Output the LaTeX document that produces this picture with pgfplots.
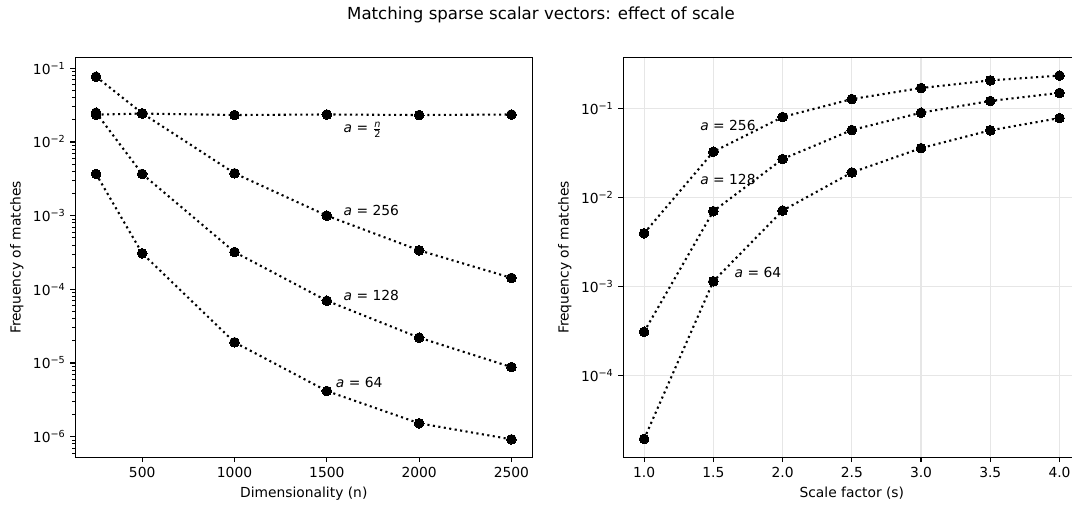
\documentclass[border=0pt]{standalone}
\usepackage{fontspec}
\setmainfont{DejaVu Sans}
\usepackage{amsmath}
\usepackage{pgfplots}
\pgfplotsset{compat=1.18}
\definecolor{gridgray}{HTML}{E6E6E6}

\pgfplotstableread{
x nhalf a256 a128 a64
250 0.0235 0.077 0.0250 0.00368
500 0.0243 0.0245 0.00368 3.08e-4
1000 0.0232 0.00376 3.21e-4 1.91e-5
1500 0.0236 0.00100 7.0e-5 4.17e-6
2000 0.0232 3.38e-4 2.21e-5 1.52e-6
2500 0.0236 1.43e-4 8.8e-6 9.2e-7
}\tabdim

\pgfplotstableread{
s a256 a128 a64
1.0 0.00397 3.12e-4 1.96e-5
1.5 0.0326 0.00702 0.00115
2.0 0.080 0.0270 0.00714
2.5 0.127 0.0571 0.0191
3.0 0.169 0.0894 0.0358
3.5 0.206 0.121 0.0567
4.0 0.233 0.149 0.0778
}\tabscale

\pgfplotsset{
  mycommon/.style={
    scale only axis, width=329bp, height=287.9bp, anchor=south west,
    axis line style={line width=0.8bp, black},
    tick align=outside, xtick pos=bottom, ytick pos=left,
    major tick length=3.5bp, minor tick length=2bp,
    every major tick/.append style={line width=0.8bp, black},
    every minor tick/.append style={line width=0.6bp, black},
    tick label style={font=\fontsize{10}{12}\selectfont},
    label style={font=\fontsize{10}{12}\selectfont},
    /pgf/number format/assume math mode=true,
    /pgf/number format/1000 sep={},
    ylabel={Frequency of matches},
  },
  myser/.style={black, line width=1.5bp, dash pattern=on 1.5bp off 2.475bp,
    mark=*, mark size=3.5bp, mark options={solid, fill=black, draw=black, line width=0bp}},
}

\begin{document}
\begin{tikzpicture}
\useasboundingbox (0,0) rectangle (771.84bp,365.76bp);
\begin{axis}[ymode=log, mycommon,
  at={(54.2bp,36.5bp)},
  xmin=137.5, xmax=2612.5,
  ymin=5.25e-7, ymax=0.1403,
  xtick={500,1000,1500,2000,2500},
  xticklabels={500,1000,1500,2000,2500},
  ytick={1e-6,1e-5,1e-4,1e-3,1e-2,1e-1},
  yticklabels={10\textsuperscript{−6},10\textsuperscript{−5},10\textsuperscript{−4},10\textsuperscript{−3},10\textsuperscript{−2},10\textsuperscript{−1}},
  minor ytick={6e-7,7e-7,8e-7,9e-7,
    2e-6,3e-6,4e-6,5e-6,6e-6,7e-6,8e-6,9e-6,
    2e-5,3e-5,4e-5,5e-5,6e-5,7e-5,8e-5,9e-5,
    2e-4,3e-4,4e-4,5e-4,6e-4,7e-4,8e-4,9e-4,
    2e-3,3e-3,4e-3,5e-3,6e-3,7e-3,8e-3,9e-3,
    2e-2,3e-2,4e-2,5e-2,6e-2,7e-2,8e-2,9e-2},
  xlabel={Dimensionality (n)},
]
\addplot[myser] table[x=x, y=nhalf] {\tabdim};
\addplot[myser] table[x=x, y=a256] {\tabdim};
\addplot[myser] table[x=x, y=a128] {\tabdim};
\addplot[myser] table[x=x, y=a64] {\tabdim};
\node[anchor=west, inner sep=0pt, font=\fontsize{10}{12}\selectfont] at (axis cs:1590,0.0146) {\textit{a} = $\frac{\text{\itshape n}}{\text{2}}$};
\node[anchor=west, inner sep=0pt, font=\fontsize{10}{12}\selectfont] at (axis cs:1590,1.17e-3) {\textit{a} = 256};
\node[anchor=west, inner sep=0pt, font=\fontsize{10}{12}\selectfont] at (axis cs:1590,8.3e-5) {\textit{a} = 128};
\node[anchor=west, inner sep=0pt, font=\fontsize{10}{12}\selectfont] at (axis cs:1548,5.47e-6) {\textit{a} = 64};
\end{axis}

\begin{axis}[ymode=log, mycommon,
  at={(448.8bp,36.5bp)},
  xmin=0.85, xmax=4.15,
  ymin=1.22e-5, ymax=0.3724,
  yminorticks=false,
  grid=major, major grid style={gridgray, line width=0.8bp},
  xtick={1.0,1.5,2.0,2.5,3.0,3.5,4.0},
  xticklabels={1.0,1.5,2.0,2.5,3.0,3.5,4.0},
  ytick={1e-4,1e-3,1e-2,1e-1},
  yticklabels={10\textsuperscript{−4},10\textsuperscript{−3},10\textsuperscript{−2},10\textsuperscript{−1}},
  xlabel={Scale factor (s)},
]
\addplot[myser] table[x=s, y=a256] {\tabscale};
\addplot[myser] table[x=s, y=a128] {\tabscale};
\addplot[myser] table[x=s, y=a64] {\tabscale};
\node[anchor=west, inner sep=0pt, font=\fontsize{10}{12}\selectfont] at (axis cs:1.404,0.0635) {\textit{a} = 256};
\node[anchor=west, inner sep=0pt, font=\fontsize{10}{12}\selectfont] at (axis cs:1.404,0.01574) {\textit{a} = 128};
\node[anchor=west, inner sep=0pt, font=\fontsize{10}{12}\selectfont] at (axis cs:1.652,1.44e-3) {\textit{a} = 64};
\end{axis}

\node[font=\fontsize{12}{14}\selectfont] at (389.5bp,355bp) {Matching sparse scalar vectors: effect of scale};
\end{tikzpicture}
\end{document}
